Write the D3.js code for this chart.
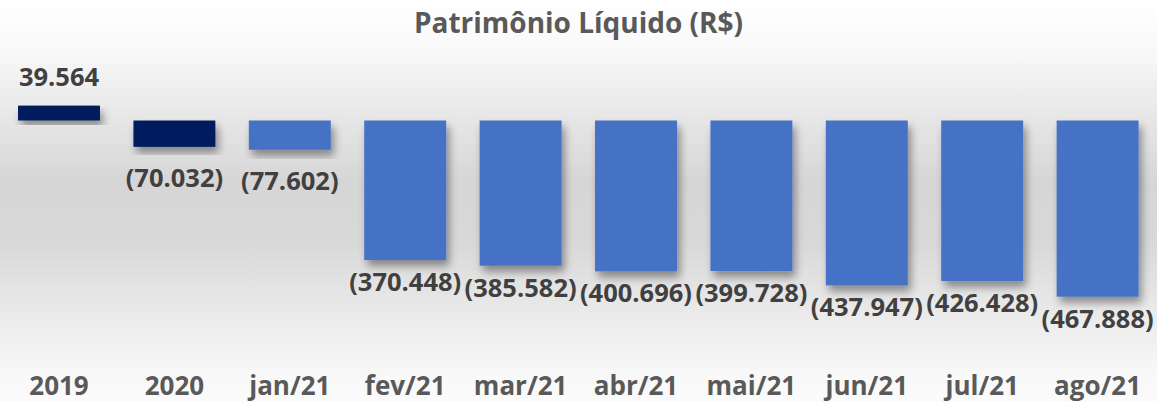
<!DOCTYPE html>
<html>
<head>
<meta charset="utf-8">
<script src="https://cdn.jsdelivr.net/npm/d3@7"></script>
<style>
  html, body { margin: 0; padding: 0; background: #ffffff; }
  svg { display: block; }
</style>
</head>
<body>
<svg id="chart" width="1157" height="402"></svg>
<script>
// ---- data ----
const categories = ["2019", "2020", "jan/21", "fev/21", "mar/21", "abr/21", "mai/21", "jun/21", "jul/21", "ago/21"];
const values = [39564, -70032, -77602, -370448, -385582, -400696, -399728, -437947, -426428, -467888];
const labels = ["39.564", "(70.032)", "(77.602)", "(370.448)", "(385.582)", "(400.696)", "(399.728)", "(437.947)", "(426.428)", "(467.888)"];
const annualFlags = [true, true, false, false, false, false, false, false, false, false];
const title = "Patrimônio Líquido (R$)";

const W = 1157, H = 402;
const svg = d3.select("#chart");
const defs = svg.append("defs");

// background gradient
const bg = defs.append("linearGradient").attr("id", "bg").attr("x1", 0).attr("y1", 0).attr("x2", 0).attr("y2", 1);
[[0, "#ffffff"], [0.12, "#f9f9f9"], [0.3, "#e6e6e6"], [0.45, "#d6d6d6"], [0.6, "#d8d8d8"], [0.8, "#ececec"], [0.93, "#f8f8f8"], [1, "#fbfbfb"]]
  .forEach(([o, c]) => bg.append("stop").attr("offset", o).attr("stop-color", c));
svg.append("rect").attr("width", W).attr("height", H).attr("fill", "url(#bg)");

// bar shadow
const f = defs.append("filter").attr("id", "shadow").attr("x", "-30%").attr("y", "-30%").attr("width", "160%").attr("height", "160%");
f.append("feGaussianBlur").attr("in", "SourceAlpha").attr("stdDeviation", 4).attr("result", "blur");
f.append("feOffset").attr("in", "blur").attr("dx", 3).attr("dy", 6).attr("result", "off");
f.append("feComponentTransfer").attr("in", "off").attr("result", "sh")
  .append("feFuncA").attr("type", "linear").attr("slope", 0.4);
const m = f.append("feMerge");
m.append("feMergeNode").attr("in", "sh");
m.append("feMergeNode").attr("in", "SourceGraphic");

// scales
const x = d3.scaleBand().domain(categories).range([1.3, 1155.3]).paddingInner(0.29).paddingOuter(0.145);
const y = d3.scaleLinear().domain([0, -467888]).range([120.5, 296.7]);

const data = categories.map((c, i) => ({ c, v: values[i], l: labels[i], annual: annualFlags[i] }));

// title
svg.append("text")
  .attr("x", 578.5).attr("y", 33)
  .attr("text-anchor", "middle")
  .attr("font-family", "'Open Sans', sans-serif")
  .attr("font-weight", 700)
  .attr("font-size", 28)
  .attr("fill", "#595959")
  .text(title);

// bars
svg.append("g").selectAll("rect").data(data).join("rect")
  .attr("x", d => x(d.c))
  .attr("width", x.bandwidth())
  .attr("y", d => Math.min(y(d.v), y(0)))
  .attr("height", d => Math.abs(y(d.v) - y(0)))
  .attr("fill", d => d.annual ? "#001F5F" : "#4472C4")
  .attr("filter", "url(#shadow)");

// data labels
svg.append("g").selectAll("text").data(data).join("text")
  .attr("x", d => x(d.c) + x.bandwidth() / 2)
  .attr("y", d => {
    if (d.v >= 0) return y(d.v) - 20;
    const h = y(d.v) - y(0);
    return y(d.v) + (h < 50 ? 40 : 31);
  })
  .attr("text-anchor", "middle")
  .attr("font-family", "'Open Sans', sans-serif")
  .attr("font-weight", 700)
  .attr("font-size", 25.5)
  .attr("fill", "#404040")
  .text(d => d.l);

// category axis
const axis = d3.axisBottom(x).tickSize(0).tickPadding(0);
const gx = svg.append("g").attr("transform", "translate(0,376)").call(axis);
gx.select(".domain").remove();
gx.selectAll("text")
  .attr("dy", "0.73em")
  .attr("font-family", "'Open Sans', sans-serif")
  .attr("font-weight", 700)
  .attr("font-size", 26)
  .attr("fill", "#595959");
</script>
</body>
</html>
